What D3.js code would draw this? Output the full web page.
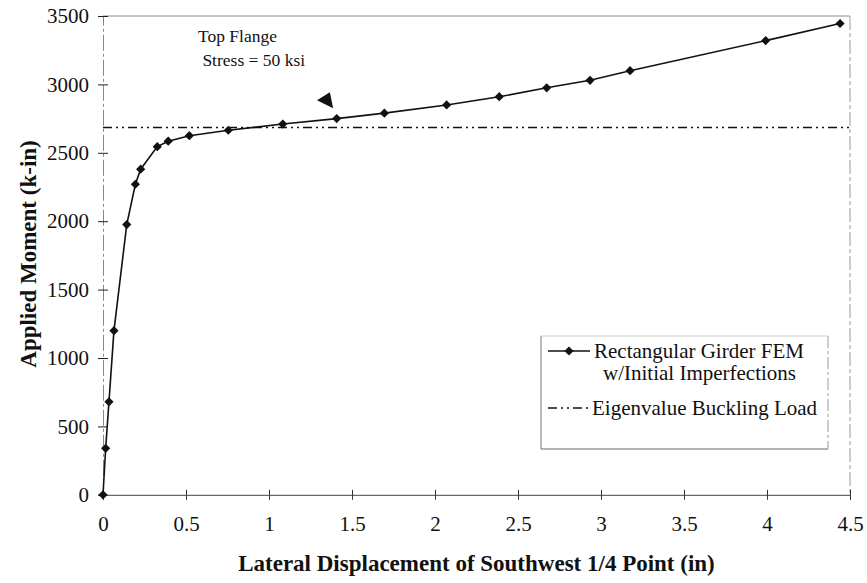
<!DOCTYPE html>
<html><head><meta charset="utf-8">
<script src="https://cdn.jsdelivr.net/npm/d3@7"></script>
<style>
html,body{margin:0;padding:0;background:#fff;}
svg text{font-family:"Liberation Serif","Times New Roman",serif;fill:#111;}
</style></head>
<body><svg id="c" width="867" height="583"></svg>
<script>
// ---- data ----
const displacement = [0, 0.016, 0.036, 0.066, 0.143, 0.195, 0.227, 0.327, 0.393, 0.52, 0.755, 1.083, 1.408, 1.695, 2.07, 2.387, 2.673, 2.934, 3.175, 3.992, 4.44];
const moment =       [0, 340, 680, 1200, 1975, 2270, 2380, 2545, 2585, 2625, 2665, 2710, 2750, 2790, 2850, 2910, 2975, 3030, 3100, 3320, 3445];
const eigenLoad = 2685;
const xTicks = [0, 0.5, 1, 1.5, 2, 2.5, 3, 3.5, 4, 4.5];
const xTickLabels = ["0", "0.5", "1", "1.5", "2", "2.5", "3", "3.5", "4", "4.5"];
const yTicks = [0, 500, 1000, 1500, 2000, 2500, 3000, 3500];
const seriesNames = ["Rectangular Girder FEM", "w/Initial Imperfections", "Eigenvalue Buckling Load"];
const annotationLines = ["Top Flange", " Stress = 50 ksi"];
const arrowX = [1.289, 1.367, 1.386];
const arrowY = [2885, 2943, 2826];

// ---- layout ----
const svg = d3.select("#c");
const x = d3.scaleLinear().domain([0, 4.5]).range([103, 850]);
const y = d3.scaleLinear().domain([0, 3500]).range([494.8, 16]);

// frame (top & right)
svg.append("line").attr("x1", x(0)).attr("x2", x(4.5)).attr("y1", y(3500)).attr("y2", y(3500))
  .attr("stroke", "#8a8a8a").attr("stroke-width", 1);
svg.append("line").attr("x1", x(4.5)).attr("x2", x(4.5)).attr("y1", y(3500)).attr("y2", y(0))
  .attr("stroke", "#9a9a9a").attr("stroke-width", 1).attr("stroke-dasharray", "14,3,4,3");

// y axis
const yAxis = svg.append("g").attr("transform", `translate(${x(0)},0)`)
  .call(d3.axisLeft(y).tickValues(yTicks).tickSize(5).tickPadding(9).tickFormat(d3.format("d")));
yAxis.select(".domain").attr("stroke", "#888").attr("stroke-dasharray", "16,3,3,3");
yAxis.selectAll(".tick line").attr("x1", -5).attr("x2", 5).attr("stroke", "#222");
yAxis.selectAll(".tick text").attr("font-size", 21).attr("font-family", "Liberation Serif").attr("fill", "#111");

// x axis
const xAxis = svg.append("g").attr("transform", `translate(0,${y(0)})`)
  .call(d3.axisBottom(x).tickValues(xTicks).tickSize(5).tickPadding(16)
    .tickFormat((d, i) => xTickLabels[i]));
xAxis.select(".domain").attr("stroke", "#444");
xAxis.selectAll(".tick line").attr("y1", -5).attr("y2", 5).attr("stroke", "#333");
xAxis.selectAll(".tick text").attr("font-size", 21).attr("font-family", "Liberation Serif").attr("fill", "#111");

// eigenvalue line
svg.append("line").attr("x1", x(0)).attr("x2", x(4.5)).attr("y1", y(eigenLoad)).attr("y2", y(eigenLoad))
  .attr("stroke", "#111").attr("stroke-width", 1.3).attr("stroke-dasharray", "9,4,2,4,2,4");

// FEM series
const pts = displacement.map((d, i) => [d, moment[i]]);
svg.append("path").datum(pts)
  .attr("d", d3.line().x(d => x(d[0])).y(d => y(d[1])))
  .attr("fill", "none").attr("stroke", "#111").attr("stroke-width", 1.6);
const diamond = "M0,-4.6L4.6,0L0,4.6L-4.6,0Z";
svg.selectAll(".pt").data(pts).join("path").attr("class", "pt")
  .attr("d", diamond).attr("transform", d => `translate(${x(d[0])},${y(d[1])})`).attr("fill", "#111");

// annotation
svg.append("text").attr("x", 198).attr("y", 42).attr("font-size", 17.5).text(annotationLines[0]);
svg.append("text").attr("x", 198).attr("y", 66).attr("font-size", 17.5).attr("xml:space", "preserve").text(annotationLines[1]);
svg.append("path")
  .attr("d", d3.line()(arrowX.map((v, i) => [x(v), y(arrowY[i])])) + "Z")
  .attr("fill", "#111");

// axis titles
svg.append("text").attr("x", (x(0) + x(4.5)) / 2 + 0).attr("y", 571).attr("text-anchor", "middle")
  .attr("font-size", 23).attr("font-weight", "bold").text("Lateral Displacement of Southwest 1/4 Point (in)");
svg.append("text").attr("transform", "translate(36,254) rotate(-90)").attr("text-anchor", "middle")
  .attr("font-size", 23).attr("font-weight", "bold").text("Applied Moment (k-in)");

// legend
const lg = svg.append("g");
const bx0 = 541, bx1 = 828, by0 = 336, by1 = 449;
lg.append("line").attr("x1", bx0).attr("x2", bx0).attr("y1", by0).attr("y2", by1).attr("stroke", "#777");
lg.append("line").attr("x1", bx0).attr("x2", bx1).attr("y1", by1).attr("y2", by1).attr("stroke", "#666");
lg.append("line").attr("x1", bx1).attr("x2", bx1).attr("y1", by0).attr("y2", by1).attr("stroke", "#999").attr("stroke-dasharray", "12,3,3,3");
lg.append("line").attr("x1", bx0).attr("x2", bx1).attr("y1", by0).attr("y2", by0).attr("stroke", "#ccc");
lg.append("line").attr("x1", 548).attr("x2", 590).attr("y1", 351).attr("y2", 351).attr("stroke", "#111").attr("stroke-width", 1.6);
lg.append("path").attr("d", diamond).attr("transform", "translate(569,351)").attr("fill", "#111");
lg.append("text").attr("x", 594).attr("y", 358).attr("font-size", 21).text(seriesNames[0]);
lg.append("text").attr("x", 603).attr("y", 380).attr("font-size", 21).text(seriesNames[1]);
lg.append("line").attr("x1", 548).attr("x2", 590).attr("y1", 408).attr("y2", 408).attr("stroke", "#111").attr("stroke-width", 1.3).attr("stroke-dasharray", "9,4,2,4,2,4");
lg.append("text").attr("x", 592).attr("y", 415).attr("font-size", 21).text(seriesNames[2]);
</script></body></html>
